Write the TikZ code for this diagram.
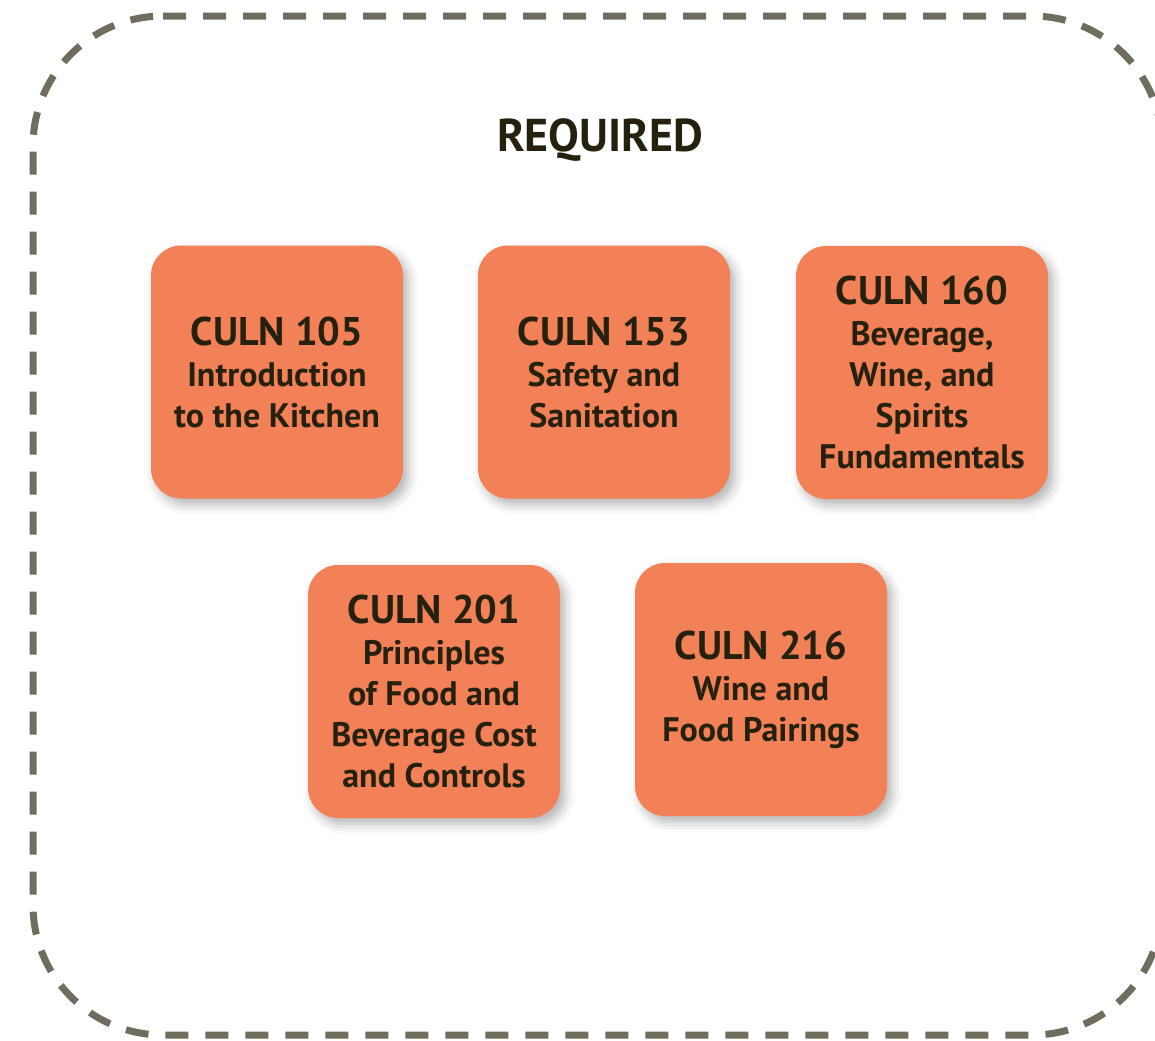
\documentclass[tikz,border=0pt]{standalone}
\usepackage{fontspec}
\setmainfont{PT Sans}
\usepackage{tikz}
\usepackage{xcolor}
\usetikzlibrary{shadows.blur}

\definecolor{coursefill}{RGB}{242,129,87}
\definecolor{coursetext}{RGB}{38,33,14}
\definecolor{framegray}{RGB}{112,109,95}

\begin{document}
\begin{tikzpicture}[x=0.5pt, y=-0.5pt,
        course/.style={fill=coursefill, rounded corners=15pt,
                minimum width=126pt, minimum height=126.5pt,
                align=center, text=coursetext, font=\bfseries\fontsize{17}{20.5}\selectfont,
                blur shadow={shadow xshift=2.5pt, shadow yshift=-3pt,
                        shadow blur radius=5pt, shadow opacity=30}}]
                \useasboundingbox (0, 0) rectangle (1155, 1040);

                \draw[framegray, line width=3.5pt, dash pattern=on 11.5pt off 8.5pt, rounded corners=65pt]
                (33, 16) -- (1162, 16) -- (1162, 1035) -- (33, 1035) -- cycle;

                \node[text=coursetext, font=\bfseries\fontsize{23}{28}\selectfont] (required) at (600, 140) {REQUIRED};

                \node[course] (culn105) at (277, 372)
                {{\fontsize{20}{20.5}\selectfont CULN 105}\\Introduction\\to the Kitchen};
                \node[course] (culn153) at (604, 372)
                {{\fontsize{20}{20.5}\selectfont CULN 153}\\Safety and\\Sanitation};
                \node[course] (culn160) at (922, 372.5)
                {{\fontsize{20}{20.5}\selectfont CULN 160}\\Beverage,\\Wine, and\\Spirits\\Fundamentals};
                \node[course] (culn201) at (434, 691.5)
                {{\fontsize{20}{20.5}\selectfont CULN 201}\\Principles\\of Food and\\Beverage Cost\\and Controls};
                \node[course] (culn216) at (761, 689.5)
                {{\fontsize{20}{20.5}\selectfont CULN 216}\\Wine and\\Food Pairings};
\end{tikzpicture}
\end{document}
